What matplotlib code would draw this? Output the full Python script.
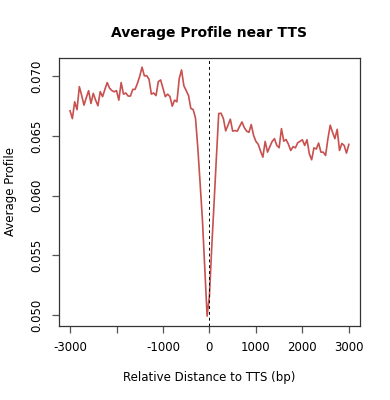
import numpy as np
import matplotlib.pyplot as plt

distance = np.arange(-3000, 3001, 50)

profile_upstream = [
    0.06711, 0.06645, 0.06786, 0.06720, 0.06913, 0.06840, 0.06758, 0.06820,
    0.06879, 0.06772, 0.06857, 0.06800, 0.06753, 0.06871, 0.06829, 0.06890,
    0.06947, 0.06900, 0.06880, 0.06870, 0.06880, 0.06800, 0.06947, 0.06850,
    0.06860, 0.06834, 0.06834, 0.06890, 0.06890, 0.06940, 0.07000, 0.07076,
    0.07003, 0.07005, 0.06975, 0.06850, 0.06860, 0.06838, 0.06955, 0.06969,
    0.06900, 0.06829, 0.06850, 0.06830, 0.06749, 0.06800, 0.06786, 0.06980,
    0.07053, 0.06920, 0.06880, 0.06838, 0.06730, 0.06721, 0.06650, 0.06400,
    0.06100, 0.05790, 0.05390, 0.04990,
]
profile_downstream = [
    0.05160, 0.05570, 0.05940, 0.06320, 0.06688, 0.06690, 0.06646, 0.06542,
    0.06590, 0.06640, 0.06540, 0.06545, 0.06540, 0.06580, 0.06617, 0.06570,
    0.06540, 0.06530, 0.06595, 0.06505, 0.06454, 0.06430, 0.06373, 0.06322,
    0.06454, 0.06364, 0.06410, 0.06454, 0.06477, 0.06420, 0.06401, 0.06561,
    0.06456, 0.06470, 0.06430, 0.06378, 0.06410, 0.06400, 0.06443, 0.06454,
    0.06468, 0.06420, 0.06468, 0.06350, 0.06300, 0.06400, 0.06390, 0.06440,
    0.06364, 0.06364, 0.06336, 0.06477, 0.06590, 0.06530, 0.06477, 0.06555,
    0.06378, 0.06437, 0.06420, 0.06356, 0.06429,
]
profile = np.array(profile_upstream + profile_downstream)

xticks = [-3000, -2000, -1000, 0, 1000, 2000, 3000]
xtick_labels = ['-3000', '', '-1000', '0', '1000', '2000', '3000']
yticks = [0.050, 0.055, 0.060, 0.065, 0.070]

fig = plt.figure(figsize=(3.9, 4.0), dpi=100)
ax = fig.add_axes([0.151, 0.185, 0.772, 0.67])

ax.plot(distance, profile, color='#C8504F', lw=1.2)
ax.axvline(0, color='black', lw=0.7, ls=(0, (3, 3)))

ax.set_xlim(-3240, 3240)
ax.set_ylim(0.04907, 0.07153)
ax.set_xticks(xticks)
ax.set_xticklabels(xtick_labels)
ax.set_yticks(yticks)
ax.set_yticklabels(['%.3f' % v for v in yticks], rotation=90, va='center')

for s in ax.spines.values():
    s.set_color('#333333')
    s.set_linewidth(0.9)
ax.tick_params(direction='out', length=5, width=0.9, color='#555555',
               labelsize=8.5, pad=6)

ax.set_title('Average Profile near TTS', fontsize=10, fontweight='bold', pad=15)
ax.set_xlabel('Relative Distance to TTS (bp)', fontsize=8.5, labelpad=12)
ax.set_ylabel('Average Profile', fontsize=8.5, labelpad=10)

fig.savefig('out.png', dpi=100)
